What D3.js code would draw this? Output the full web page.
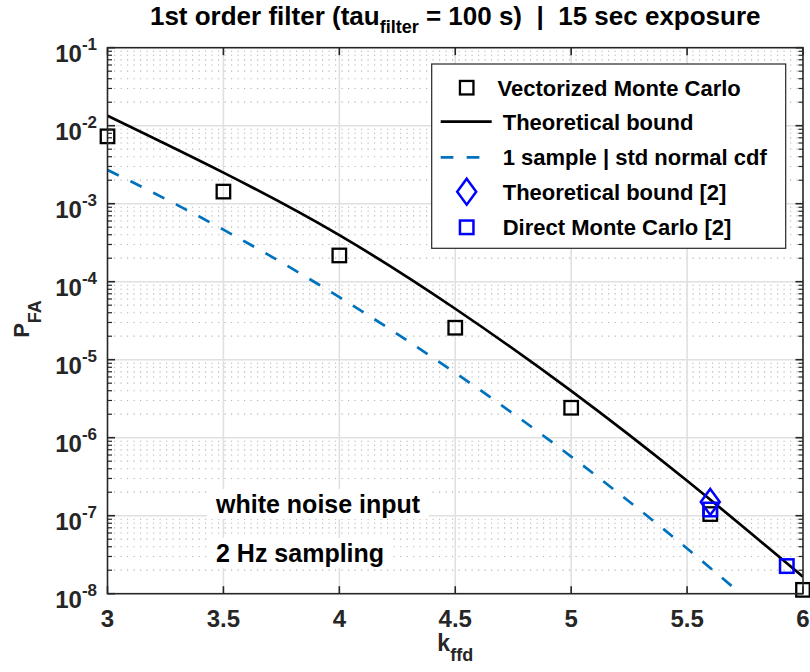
<!DOCTYPE html>
<html>
<head>
<meta charset="utf-8">
<script src="https://cdn.jsdelivr.net/npm/d3@7/dist/d3.min.js"></script>
<style>
  html, body { margin: 0; padding: 0; background: #fff; }
  svg { display: block; font-family: "Liberation Sans", Arial, Helvetica, sans-serif; font-weight: bold; }
</style>
</head>
<body>
<svg id="chart" width="810" height="672"></svg>
<script>
// ---------------- data ----------------
const xTicks = [3, 3.5, 4, 4.5, 5, 5.5, 6];
const xTickLabels = ["3", "3.5", "4", "4.5", "5", "5.5", "6"];
const yTickExps = [-1, -2, -3, -4, -5, -6, -7, -8];

// Vectorized Monte Carlo (black squares)
const kVec = [3, 3.5, 4, 4.5, 5, 5.6, 6];
const pVec = [7.3e-3, 1.43e-3, 2.17e-4, 2.57e-5, 2.42e-6, 1.05e-7, 1.12e-8];

// Theoretical bound (black solid line)
const kTheory = [3, 3.5, 4, 4.5, 5, 5.5, 6];
const pTheory = [1.34e-2, 2.5e-3, 3.95e-4, 4.5e-5, 3.98e-6, 2.8e-7, 1.65e-8];

// 1 sample | std normal cdf (blue dashed line)
const kCdf = [3.0, 3.1, 3.2, 3.3, 3.4, 3.5, 3.6, 3.7, 3.8, 3.9, 4.0, 4.1, 4.2, 4.3, 4.4,
              4.5, 4.6, 4.7, 4.8, 4.9, 5.0, 5.1, 5.2, 5.3, 5.4, 5.5, 5.6, 5.7, 5.8];
const pCdf = [2.70e-3, 1.94e-3, 1.37e-3, 9.67e-4, 6.74e-4, 4.65e-4, 3.18e-4, 2.16e-4, 1.45e-4, 9.62e-5,
              6.33e-5, 4.13e-5, 2.67e-5, 1.71e-5, 1.08e-5, 6.80e-6, 4.23e-6, 2.60e-6, 1.59e-6, 9.60e-7,
              5.73e-7, 3.40e-7, 1.99e-7, 1.16e-7, 6.67e-8, 3.80e-8, 2.14e-8, 1.20e-8, 6.63e-9];

// Theoretical bound [2] (blue diamond)
const kRefTheory = [5.6];
const pRefTheory = [1.5e-7];

// Direct Monte Carlo [2] (blue squares)
const kRefMC = [5.6, 5.93];
const pRefMC = [1.2e-7, 2.26e-8];

const legendLabels = ["Vectorized Monte Carlo", "Theoretical bound", "1 sample | std normal cdf",
                      "Theoretical bound [2]", "Direct Monte Carlo [2]"];
const titleMain1 = "1st order filter (tau";
const titleSub = "filter";
const titleMain2 = " = 100 s)\u00a0\u00a0|\u00a0\u00a015 sec exposure";
const annotations = ["white noise input", "2 Hz sampling"];

// ---------------- layout ----------------
const svg = d3.select("#chart");
const L = 107.5, R = 803, T = 47.7, B = 593.7;
const axisColor = "#262626";
const blue = "#0000ff";
const cdfBlue = "#0072bd";

const x = d3.scaleLinear().domain([3, 6]).range([L, R]);
const y = d3.scaleLog().domain([1e-8, 1e-1]).range([B, T]);

svg.append("defs").append("clipPath").attr("id", "clip")
  .append("rect").attr("x", L).attr("y", T).attr("width", R - L).attr("height", B - T);

// minor y grid (dotted)
const minorVals = [];
for (let e = -8; e < -1; e++) for (let m = 2; m <= 9; m++) minorVals.push(m * Math.pow(10, e));
const grid = svg.append("g");
grid.selectAll("line.minor").data(minorVals).join("line")
  .attr("x1", L).attr("x2", R)
  .attr("y1", d => y(d)).attr("y2", d => y(d))
  .attr("stroke", "#b4b4b4").attr("stroke-width", 1.2).attr("stroke-dasharray", "1.2,5.3");
// major grid
grid.selectAll("line.mx").data(xTicks.slice(1, -1)).join("line")
  .attr("x1", d => x(d)).attr("x2", d => x(d)).attr("y1", T).attr("y2", B)
  .attr("stroke", "#e0e0e0").attr("stroke-width", 1.6);
grid.selectAll("line.my").data(yTickExps.slice(1, -1)).join("line")
  .attr("x1", L).attr("x2", R).attr("y1", d => y(Math.pow(10, d))).attr("y2", d => y(Math.pow(10, d)))
  .attr("stroke", "#e0e0e0").attr("stroke-width", 1.6);

// text annotations with white background
const annY = [513, 562];
const annG = svg.append("g");
annotations.forEach((t, i) => {
  const g = annG.append("g");
  const rect = g.append("rect").attr("fill", "#fff");
  const tx = g.append("text").attr("x", 216).attr("y", annY[i]).attr("font-size", 25)
    .attr("fill", "#000").text(t);
  const bb = tx.node().getBBox();
  rect.attr("x", bb.x - 8).attr("y", bb.y - 1).attr("width", bb.width + 16).attr("height", bb.height + 2);
});

// Vectorized MC squares (plotted first)
const sqB = 13.5;
svg.append("g").selectAll("rect").data(kVec.map((k, i) => [k, pVec[i]])).join("rect")
  .attr("x", d => x(d[0]) - sqB / 2).attr("y", d => y(d[1]) - sqB / 2)
  .attr("width", sqB).attr("height", sqB)
  .attr("fill", "none").attr("stroke", "#000").attr("stroke-width", 2.3);

// lines
const lineTheory = d3.line().x(d => x(d[0])).y(d => y(d[1])).curve(d3.curveNatural);
svg.append("path").attr("clip-path", "url(#clip)")
  .datum(kTheory.map((k, i) => [k, pTheory[i]]))
  .attr("d", lineTheory).attr("fill", "none").attr("stroke", "#000").attr("stroke-width", 2.7);

const lineCdf = d3.line().x(d => x(d[0])).y(d => y(d[1]));
svg.append("path").attr("clip-path", "url(#clip)")
  .datum(kCdf.map((k, i) => [k, pCdf[i]]))
  .attr("d", lineCdf).attr("fill", "none").attr("stroke", cdfBlue).attr("stroke-width", 2.7)
  .attr("stroke-dasharray", "12.5,13");

// diamond
const dW = 9.5, dH = 13;
const diamondPath = (cx, cy) => `M${cx},${cy - dH}L${cx + dW},${cy}L${cx},${cy + dH}L${cx - dW},${cy}Z`;
svg.append("g").selectAll("path").data(kRefTheory.map((k, i) => [k, pRefTheory[i]])).join("path")
  .attr("d", d => diamondPath(x(d[0]), y(d[1])))
  .attr("fill", "none").attr("stroke", blue).attr("stroke-width", 2.5);

// direct MC blue squares
svg.append("g").selectAll("rect").data(kRefMC.map((k, i) => [k, pRefMC[i]])).join("rect")
  .attr("x", d => x(d[0]) - sqB / 2).attr("y", d => y(d[1]) - sqB / 2)
  .attr("width", sqB).attr("height", sqB)
  .attr("fill", "none").attr("stroke", blue).attr("stroke-width", 2.5);

// axes box
const ax = svg.append("g");
ax.append("rect").attr("x", L).attr("y", T).attr("width", R - L).attr("height", B - T)
  .attr("fill", "none").attr("stroke", axisColor).attr("stroke-width", 1.6);

// x ticks (inward, top & bottom)
xTicks.forEach(v => {
  ax.append("line").attr("x1", x(v)).attr("x2", x(v)).attr("y1", B).attr("y2", B - 7.5)
    .attr("stroke", axisColor).attr("stroke-width", 1.6);
  ax.append("line").attr("x1", x(v)).attr("x2", x(v)).attr("y1", T).attr("y2", T + 7.5)
    .attr("stroke", axisColor).attr("stroke-width", 1.6);
});
// y ticks major & minor (left & right)
yTickExps.forEach(e => {
  const yy = y(Math.pow(10, e));
  ax.append("line").attr("x1", L).attr("x2", L + 7.5).attr("y1", yy).attr("y2", yy)
    .attr("stroke", axisColor).attr("stroke-width", 1.6);
  ax.append("line").attr("x1", R).attr("x2", R - 7.5).attr("y1", yy).attr("y2", yy)
    .attr("stroke", axisColor).attr("stroke-width", 1.6);
});
minorVals.forEach(v => {
  const yy = y(v);
  ax.append("line").attr("x1", L).attr("x2", L + 4.5).attr("y1", yy).attr("y2", yy)
    .attr("stroke", axisColor).attr("stroke-width", 1.2);
  ax.append("line").attr("x1", R).attr("x2", R - 4.5).attr("y1", yy).attr("y2", yy)
    .attr("stroke", axisColor).attr("stroke-width", 1.2);
});

// x tick labels
ax.selectAll("text.xt").data(xTicks).join("text")
  .attr("x", d => x(d)).attr("y", B + 33.3).attr("text-anchor", "middle")
  .attr("font-size", 24).attr("fill", axisColor)
  .text((d, i) => xTickLabels[i]);

// y tick labels 10^e
yTickExps.forEach(e => {
  const yy = y(Math.pow(10, e));
  const t = ax.append("text").attr("x", 97).attr("y", yy + 14).attr("text-anchor", "end")
    .attr("font-size", 24).attr("fill", axisColor);
  t.append("tspan").text("10");
  t.append("tspan").attr("dy", -11.5).attr("font-size", 17).text(String(e));
});

// x label
const xl = svg.append("text").attr("x", (L + R) / 2).attr("y", 651).attr("text-anchor", "middle")
  .attr("font-size", 23).attr("fill", axisColor);
xl.append("tspan").text("k");
xl.append("tspan").attr("dy", 10).attr("font-size", 18).text("ffd");

// y label
const yl = svg.append("text").attr("transform", "translate(28.5,319) rotate(-90)")
  .attr("text-anchor", "middle").attr("font-size", 22).attr("fill", axisColor);
yl.append("tspan").text("P");
yl.append("tspan").attr("dy", 12).attr("font-size", 18).text("FA");

// title
const tt = svg.append("text").attr("x", (L + R) / 2).attr("y", 25).attr("text-anchor", "middle")
  .attr("font-size", 26).attr("fill", "#000");
tt.append("tspan").text(titleMain1);
tt.append("tspan").attr("dy", 8).attr("font-size", 18).text(titleSub);
tt.append("tspan").attr("dy", -8).text(titleMain2);

// legend
const lg = svg.append("g");
lg.append("rect").attr("x", 431.7).attr("y", 64).attr("width", 354).attr("height", 184.3)
  .attr("fill", "#fff").attr("stroke", axisColor).attr("stroke-width", 1.2);
const rowY = [87.7, 121.7, 157.3, 191.7, 227.3];
const mx = 466.7;
lg.append("rect").attr("x", mx - sqB / 2).attr("y", rowY[0] - sqB / 2).attr("width", sqB).attr("height", sqB)
  .attr("fill", "none").attr("stroke", "#000").attr("stroke-width", 2.3);
lg.append("line").attr("x1", 440.7).attr("x2", 491.7).attr("y1", rowY[1]).attr("y2", rowY[1])
  .attr("stroke", "#000").attr("stroke-width", 2.7);
lg.append("line").attr("x1", 440.7).attr("x2", 491.7).attr("y1", rowY[2]).attr("y2", rowY[2])
  .attr("stroke", cdfBlue).attr("stroke-width", 2.7).attr("stroke-dasharray", "12.7,13.3");
lg.append("path").attr("d", diamondPath(mx, rowY[3]))
  .attr("fill", "none").attr("stroke", blue).attr("stroke-width", 2.5);
lg.append("rect").attr("x", mx - sqB / 2).attr("y", rowY[4] - sqB / 2).attr("width", sqB).attr("height", sqB)
  .attr("fill", "none").attr("stroke", blue).attr("stroke-width", 2.5);
legendLabels.forEach((t, i) => {
  lg.append("text").attr("x", i === 0 ? 497.5 : 502.7).attr("y", rowY[i] + 7.8)
    .attr("font-size", 22).attr("fill", "#000").text(t);
});
</script>
</body>
</html>
